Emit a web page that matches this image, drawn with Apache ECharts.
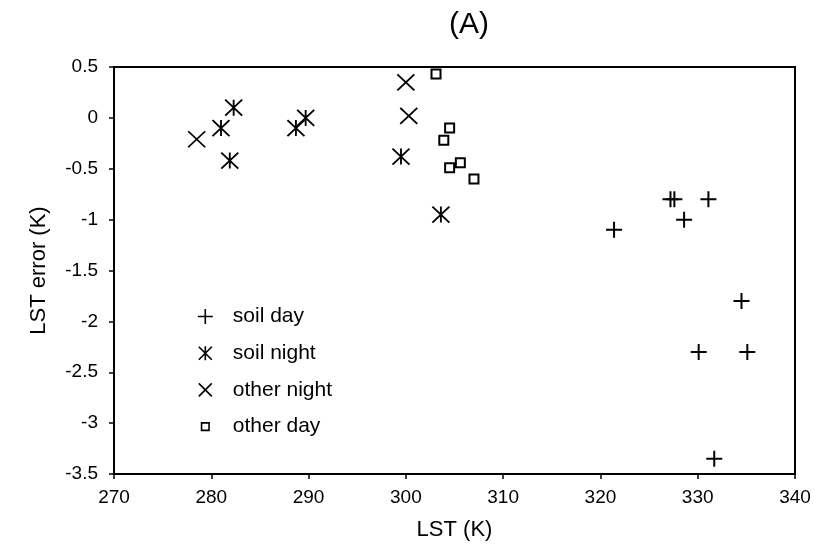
<!DOCTYPE html>
<html>
<head>
<meta charset="utf-8">
<title>LST error vs LST</title>
<script src="https://cdn.jsdelivr.net/npm/echarts@6/dist/echarts.min.js"></script>
<style>
  html, body { margin: 0; padding: 0; background: #fff; }
  #chart { width: 815px; height: 548px; }
</style>
</head>
<body>
<div id="chart"></div>
<script>
// LST (K) and LST error (K) pairs for each surface / time class
const soilDayLST = [321.4, 327.2, 327.6, 328.6, 331.1, 334.5, 330.1, 335.1, 331.7];
const soilDayErr = [-1.1, -0.8, -0.8, -1.0, -0.8, -1.8, -2.3, -2.3, -3.35];

const soilNightLST = [281.0, 282.3, 281.9, 288.7, 289.7, 299.5, 303.6];
const soilNightErr = [-0.1, 0.1, -0.42, -0.1, 0.0, -0.38, -0.95];

const otherNightLST = [278.5, 300.0, 300.3];
const otherNightErr = [-0.21, 0.35, 0.02];

const otherDayLST = [303.1, 304.5, 303.9, 305.6, 304.5, 307.0];
const otherDayErr = [0.43, -0.1, -0.22, -0.44, -0.49, -0.6];

const seriesNames = ['soil day', 'soil night', 'other night', 'other day'];
const titleText = '(A)';
const xName = 'LST (K)';
const yName = 'LST error (K)';

const pairs = (xs, ys) => xs.map((x, i) => [x, ys[i]]);

// Marker shapes (stroked line paths)
const plusPath = 'path://M0,8L16,8M8,0L8,16';
const starPath = 'path://M0,0L16,16M16,0L0,16M8,0L8,16';
const crossPath = 'path://M0,0L16,16M16,0L0,16';

// Legend icons sit in the left half of a 30x15 box so the text starts further right
const legendIcons = {
  'soil day': 'path://M0,0M30,15M0,7.5L15,7.5M7.5,0L7.5,15',
  'soil night': 'path://M0,0M30,15M1,1L14,14M14,1L1,14M7.5,0.5L7.5,14.5',
  'other night': 'path://M0,0M30,15M1,1L14,14M14,1L1,14',
  'other day': 'path://M0,0M30,15M3.75,3.75L11.25,3.75L11.25,11.25L3.75,11.25Z'
};

const FONT = 'Liberation Sans, Arial, sans-serif';

const chart = echarts.init(document.getElementById('chart'), null, { renderer: 'canvas' });

function strokeSeries(name, data, symbol, size, width) {
  return {
    name: name,
    type: 'scatter',
    data: data,
    symbol: symbol,
    symbolSize: size,
    itemStyle: { color: 'rgba(0,0,0,0)', borderColor: '#000', borderWidth: width, opacity: 1 },
    emphasis: { disabled: true },
    clip: false
  };
}

chart.setOption({
  backgroundColor: '#fff',
  animation: false,
  textStyle: { fontFamily: FONT, color: '#000' },
  title: {
    text: titleText,
    left: 464,
    top: 5,
    textAlign: 'center',
    textStyle: { fontFamily: FONT, fontSize: 30, fontWeight: 'normal', color: '#000' }
  },
  grid: {
    left: 114, right: 20, top: 67, bottom: 74,
    show: true, borderColor: '#000', borderWidth: 2, backgroundColor: '#fff'
  },
  legend: {
    orient: 'vertical',
    left: 192,
    top: 301,
    itemWidth: 30,
    itemHeight: 15,
    itemGap: 15.7,
    textStyle: { fontFamily: FONT, fontSize: 21, color: '#000', lineHeight: 21 },
    data: seriesNames.map(n => ({
      name: n,
      icon: legendIcons[n],
      itemStyle: { color: 'rgba(0,0,0,0)', borderColor: '#000', borderWidth: 1.6 }
    }))
  },
  xAxis: {
    type: 'value',
    min: 270, max: 340, interval: 10,
    name: xName,
    nameLocation: 'middle',
    nameGap: 45,
    nameTextStyle: { fontFamily: FONT, fontSize: 22, color: '#000' },
    axisLine: { show: true, onZero: false, lineStyle: { color: '#000', width: 2 } },
    axisTick: { show: true, inside: false, length: 5, lineStyle: { color: '#000', width: 1.5 } },
    axisLabel: { margin: 14, fontFamily: FONT, fontSize: 19, color: '#000' },
    splitLine: { show: false }
  },
  yAxis: {
    type: 'value',
    min: -3.5, max: 0.5, interval: 0.5,
    name: yName,
    nameLocation: 'middle',
    nameGap: 64,
    nameRotate: 90,
    nameTextStyle: { fontFamily: FONT, fontSize: 22, color: '#000' },
    axisLine: { show: true, onZero: false, lineStyle: { color: '#000', width: 2 } },
    axisTick: { show: true, inside: false, length: 5, lineStyle: { color: '#000', width: 1.5 } },
    axisLabel: { margin: 16, fontFamily: FONT, fontSize: 19, color: '#000' },
    splitLine: { show: false }
  },
  series: [
    strokeSeries('soil day', pairs(soilDayLST, soilDayErr), plusPath, 16, 2),
    strokeSeries('soil night', pairs(soilNightLST, soilNightErr), starPath, [17, 16], 1.8),
    strokeSeries('other night', pairs(otherNightLST, otherNightErr), crossPath, [17, 16], 1.8),
    {
      name: 'other day',
      type: 'scatter',
      data: pairs(otherDayLST, otherDayErr),
      symbol: 'rect',
      symbolSize: 9,
      itemStyle: { color: '#fff', borderColor: '#000', borderWidth: 2, opacity: 1 },
      emphasis: { disabled: true },
      clip: false
    }
  ]
});
</script>
</body>
</html>
